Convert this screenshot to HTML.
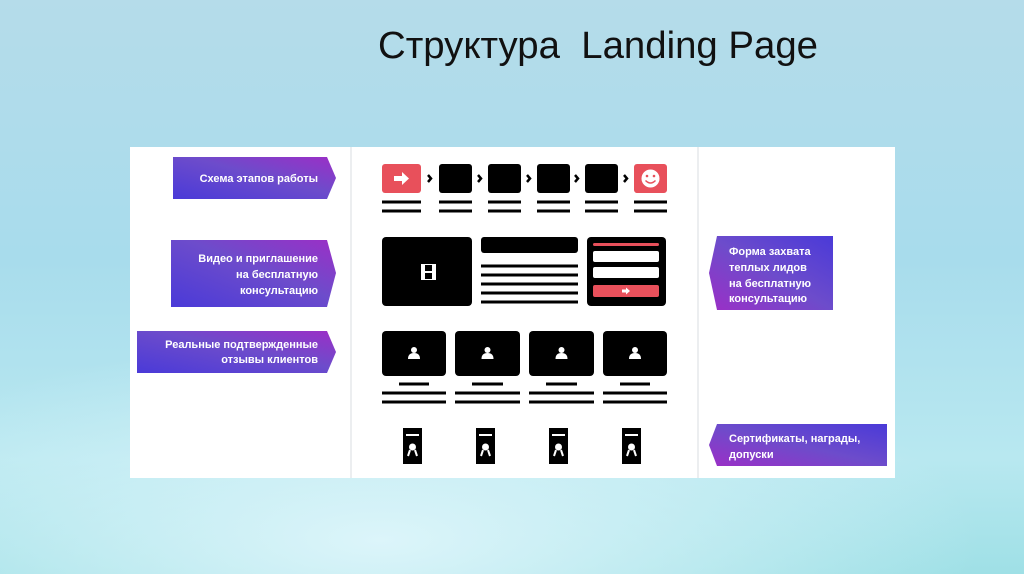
<!DOCTYPE html>
<html><head><meta charset="utf-8"><style>
html,body{margin:0;padding:0;width:1024px;height:574px;overflow:hidden}
body{background:radial-gradient(ellipse 600px 200px at 380px 540px,#dcf5fa 0%,rgba(220,245,250,0) 100%),linear-gradient(180deg,#b5dcea 0%,#a8dcec 45%,#b8e8f0 80%,#9fe0e6 100%)}
svg{position:absolute;left:0;top:0}
</style></head><body>
<svg width="1024" height="574" viewBox="0 0 1024 574" xmlns="http://www.w3.org/2000/svg">
<defs>
<linearGradient id="gl" x1="0" y1="1" x2="1" y2="0"><stop offset="0" stop-color="#4a3ad8"/><stop offset="0.55" stop-color="#6d4ccb"/><stop offset="1" stop-color="#9b2fc6"/></linearGradient>
<linearGradient id="gr" x1="0" y1="1" x2="1" y2="0"><stop offset="0" stop-color="#9b2fc6"/><stop offset="0.5" stop-color="#6d4ccb"/><stop offset="1" stop-color="#4a3ad8"/></linearGradient>
</defs>
<text x="378" y="58" textLength="440" lengthAdjust="spacingAndGlyphs" font-family="Liberation Sans, sans-serif" font-size="38" fill="#111" xml:space="preserve">Структура  Landing Page</text>
<rect x="130" y="147" width="765" height="331" fill="#fff"/>
<line x1="351" y1="147" x2="351" y2="478" stroke="#e6e8ec" stroke-width="1.5"/>
<line x1="698" y1="147" x2="698" y2="478" stroke="#e6e8ec" stroke-width="1.5"/>
<g font-family="Liberation Sans, sans-serif" font-weight="bold" font-size="11" fill="#fff">
<polygon points="173,157 327,157 336,178 327,199 173,199" fill="url(#gl)"/>
<text x="318" y="182" text-anchor="end">Схема этапов работы</text>
<polygon points="171,240 327,240 336,273 327,307 171,307" fill="url(#gl)"/>
<text x="318" y="262" text-anchor="end">Видео и приглашение</text>
<text x="318" y="278" text-anchor="end">на бесплатную</text>
<text x="318" y="294" text-anchor="end">консультацию</text>
<polygon points="137,331 327,331 336,352 327,373 137,373" fill="url(#gl)"/>
<text x="318" y="348" text-anchor="end">Реальные подтвержденные</text>
<text x="318" y="363" text-anchor="end">отзывы клиентов</text>
<polygon points="717,236 833,236 833,310 717,310 709,273" fill="url(#gr)"/>
<text x="729" y="255">Форма захвата</text>
<text x="729" y="271">теплых лидов</text>
<text x="729" y="287">на бесплатную</text>
<text x="729" y="302">консультацию</text>
<polygon points="717,424 887,424 887,466 717,466 709,445" fill="url(#gr)"/>
<text x="729" y="442">Сертификаты, награды,</text>
<text x="729" y="458">допуски</text>
</g>
<rect x="382" y="164" width="39" height="29" rx="3" fill="#e8505b"/>
<path d="M394 176h8v-4l7 6.5-7 6.5v-4h-8z" fill="#fff"/>
<rect x="439" y="164" width="33" height="29" rx="3" fill="#000"/>
<rect x="488" y="164" width="33" height="29" rx="3" fill="#000"/>
<rect x="537" y="164" width="33" height="29" rx="3" fill="#000"/>
<rect x="585" y="164" width="33" height="29" rx="3" fill="#000"/>
<rect x="634" y="164" width="33" height="29" rx="3" fill="#e8505b"/>
<circle cx="650.5" cy="178.5" r="9" fill="#fff"/>
<circle cx="647" cy="176" r="1.3" fill="#e8505b"/><circle cx="654" cy="176" r="1.3" fill="#e8505b"/>
<path d="M645.5 180.5q5 5 10 0" stroke="#e8505b" stroke-width="1.5" fill="none"/>
<g stroke="#000" stroke-width="2.5" fill="none">
<path d="M428 175l3 3.5-3 3.5"/><path d="M478 175l3 3.5-3 3.5"/><path d="M527 175l3 3.5-3 3.5"/><path d="M575 175l3 3.5-3 3.5"/><path d="M624 175l3 3.5-3 3.5"/>
</g>
<g stroke="#000" stroke-width="3">
<path d="M382 202h39M382 211h39M439 202h33M439 211h33M488 202h33M488 211h33M537 202h33M537 211h33M585 202h33M585 211h33M634 202h33M634 211h33"/>
</g>
<rect x="382" y="237" width="90" height="69" rx="4" fill="#000"/>
<rect x="421" y="264" width="15" height="16" fill="#fff"/>
<rect x="425" y="265" width="7" height="6" fill="#000"/><rect x="425" y="273" width="7" height="6" fill="#000"/>
<rect x="481" y="237" width="97" height="16" rx="3" fill="#000"/>
<g stroke="#000" stroke-width="3"><path d="M481 266h97M481 275h97M481 284h97M481 293h97M481 302h97"/></g>
<rect x="587" y="237" width="79" height="69" rx="4" fill="#000"/>
<rect x="593" y="243" width="66" height="3" rx="1.5" fill="#e8505b"/>
<rect x="593" y="251" width="66" height="11" rx="2" fill="#fff"/>
<rect x="593" y="267" width="66" height="11" rx="2" fill="#fff"/>
<rect x="593" y="285" width="66" height="12" rx="2" fill="#e8505b"/>
<path d="M622 289.5h4v-2l4 3.5-4 3.5v-2h-4z" fill="#fff"/>
<rect x="382" y="331" width="64" height="45" rx="4" fill="#000"/>
<rect x="455" y="331" width="65" height="45" rx="4" fill="#000"/>
<rect x="529" y="331" width="65" height="45" rx="4" fill="#000"/>
<rect x="603" y="331" width="64" height="45" rx="4" fill="#000"/>
<g fill="#fff">
<circle cx="414" cy="350" r="3"/><path d="M408 359q0-6 6-6q6 0 6 6z"/>
<circle cx="487.5" cy="350" r="3"/><path d="M481.5 359q0-6 6-6q6 0 6 6z"/>
<circle cx="561.5" cy="350" r="3"/><path d="M555.5 359q0-6 6-6q6 0 6 6z"/>
<circle cx="635" cy="350" r="3"/><path d="M629 359q0-6 6-6q6 0 6 6z"/>
</g>
<g stroke="#000" stroke-width="3">
<path d="M399 384h30M472 384h31M546 384h31M620 384h30"/>
<path d="M382 393h64M455 393h65M529 393h65M603 393h64"/>
<path d="M382 402h64M455 402h65M529 402h65M603 402h64"/>
</g>
<rect x="403" y="428" width="19" height="36" fill="#000"/>
<rect x="476" y="428" width="19" height="36" fill="#000"/>
<rect x="549" y="428" width="19" height="36" fill="#000"/>
<rect x="622" y="428" width="19" height="36" fill="#000"/>
<g fill="#fff" stroke="#fff">
<path d="M406 435h13M479 435h13M552 435h13M625 435h13" stroke-width="2"/>
<circle cx="412.5" cy="447" r="3.5" stroke="none"/><path d="M410 450l-2 6M415 450l2 6" stroke-width="2"/>
<circle cx="485.5" cy="447" r="3.5" stroke="none"/><path d="M483 450l-2 6M488 450l2 6" stroke-width="2"/>
<circle cx="558.5" cy="447" r="3.5" stroke="none"/><path d="M556 450l-2 6M561 450l2 6" stroke-width="2"/>
<circle cx="631.5" cy="447" r="3.5" stroke="none"/><path d="M629 450l-2 6M634 450l2 6" stroke-width="2"/>
</g>
</svg>
</body></html>
